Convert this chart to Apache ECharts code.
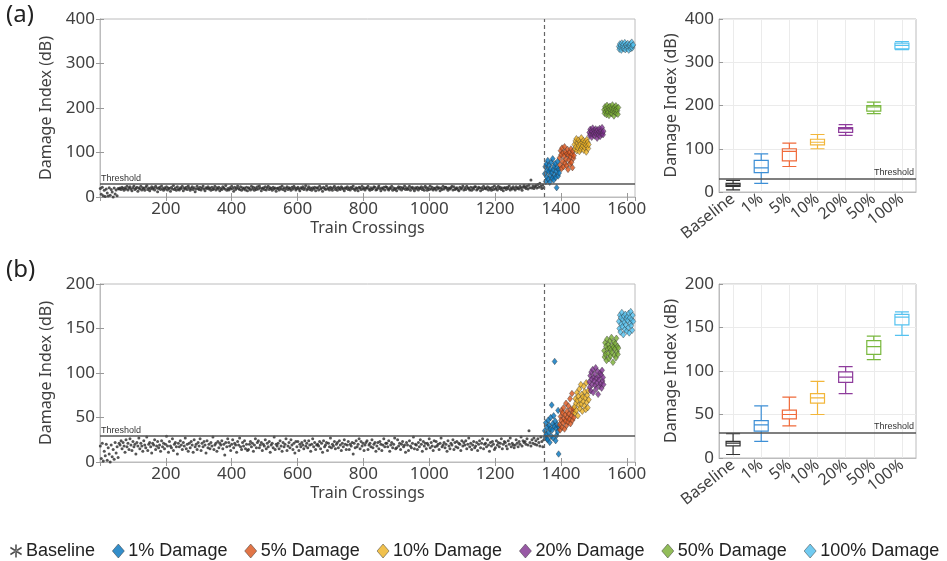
<!DOCTYPE html>
<html><head><meta charset="utf-8">
<script src="https://cdn.jsdelivr.net/npm/echarts@6/dist/echarts.min.js"></script>
<style>html,body{margin:0;padding:0;background:#fff}#c{width:947px;height:561px}</style>
</head><body><div id="c"></div>
<script>
// ---- data ----
const categories = ['Baseline','1%','5%','10%','20%','50%','100%'];
const seriesNames = ['Baseline','1% Damage','5% Damage','10% Damage','20% Damage','50% Damage','100% Damage'];
const thresholdA = 30;
const thresholdB = 29;
const damageOnset = 1350;
// baseline crossings: 1, 4, 7, ... (every 3rd crossing)
const baseStart = 1, baseStep = 3;
const baselineA = [
19,6,22,3,15,1,18,9,2,21, 4,17,11,0,20,7,16,3,19,18, 20,17,22,19,15,21,18,24,16,20, 23,18,14,21,25,17,19,22,13,20,
18,24,16,21,19,15,22,26,17,20, 14,19,23,18,21,16,24,20,12,19, 22,17,25,19,15,21,18,23,16,20, 19,13,22,18,26,17,20,15,23,18,
16,21,19,24,14,20,18,22,17,25, 20,15,19,23,17,21,12,18,24,19, 17,22,16,20,25,18,14,21,19,23, 18,20,15,22,17,19,24,16,21,18,
22,14,19,17,23,20,18,26,15,19, 16,21,18,24,19,13,22,17,20,25, 19,17,23,15,21,18,20,16,22,14, 21,19,16,24,18,22,15,20,17,23,
18,25,20,14,19,21,17,23,16,20, 24,17,21,19,15,22,18,20,13,19, 20,16,22,18,25,17,21,14,19,23, 17,21,19,15,22,18,24,20,16,19,
22,18,14,21,19,23,17,20,26,16, 19,23,17,20,15,21,18,22,14,20, 21,16,24,18,20,13,22,19,17,25, 18,20,16,22,19,15,21,24,17,20,
15,22,19,17,23,20,18,14,21,19, 23,17,20,16,22,19,25,18,15,21, 19,14,22,20,17,24,18,21,16,20, 20,24,18,15,21,17,19,23,22,16,
17,21,25,19,14,20,18,22,16,23, 22,18,16,21,19,24,15,20,17,19, 14,20,23,18,22,16,21,19,25,17, 21,17,19,24,15,20,22,18,14,21,
18,22,16,20,19,23,17,21,15,24, 20,15,21,17,25,18,22,16,19,20, 16,23,19,21,14,20,17,24,18,22, 22,19,15,20,18,21,24,16,23,17,
19,21,17,14,22,18,20,25,16,21, 17,24,20,19,16,22,15,21,18,23, 23,16,18,22,20,14,21,17,24,19, 20,18,23,16,21,19,15,22,17,25,
18,21,16,24,19,22,17,20,14,21, 21,17,22,19,25,16,20,18,23,19, 16,23,19,21,18,24,20,15,22,26, 22,19,24,18,27,21,38,20,25,19,
23,26,20,28,22,31,24,19,27,21];
const baselineB = [
18,4,21,1,12,7,20,2,16,9, 0,19,6,14,3,22,10,17,5,21, 19,24,15,22,18,11,25,17,21,14, 26,19,13,23,17,20,9,22,18,27,
15,21,18,12,24,19,16,28,13,20, 22,17,10,21,19,25,14,18,23,16, 19,12,24,17,21,15,20,29,18,11, 23,18,16,26,13,20,22,17,9,21,
17,24,19,14,22,18,27,15,20,12, 21,16,23,19,11,25,17,20,14,22, 18,26,13,21,17,23,19,10,24,16, 20,15,22,18,28,14,19,21,12,23,
16,21,19,24,15,20,8,22,17,26, 22,18,13,20,25,16,21,19,11,23, 19,27,17,14,22,18,24,15,20,13, 14,20,23,17,21,12,19,26,16,22,
24,16,19,22,13,20,18,25,15,21, 17,23,11,19,21,16,28,14,20,18, 21,15,24,18,12,22,17,20,26,13, 18,22,16,25,19,14,21,10,23,17,
23,13,20,17,22,19,15,24,18,21, 16,24,19,12,20,26,17,22,14,19, 20,18,23,15,21,11,24,17,19,22, 13,21,17,27,16,20,18,23,15,20,
22,16,24,19,13,21,17,25,20,14, 19,23,14,20,18,22,9,21,16,24, 17,20,26,15,23,18,21,13,19,22, 24,14,19,21,17,25,16,20,22,12,
18,22,15,23,20,13,19,26,17,21, 21,17,24,12,19,22,16,20,27,15, 16,25,18,21,14,20,23,17,19,11, 22,19,13,24,18,16,21,28,15,20,
19,14,22,17,25,20,12,23,18,21, 15,21,19,26,16,22,18,13,24,17, 23,18,20,14,21,27,17,19,22,16, 20,12,24,18,15,21,19,25,14,22,
17,23,16,21,20,13,24,18,22,19, 24,15,20,27,17,21,14,19,23,16, 18,22,13,20,24,16,21,26,15,20, 21,17,25,19,12,22,18,23,20,14,
16,24,19,22,17,21,26,15,20,23, 22,18,15,24,20,27,17,21,19,16, 19,25,21,17,23,20,28,18,24,22, 23,20,26,19,35,22,18,25,21,27,
20,24,19,26,22,18,28,23,17,25];
// damage levels: 45 crossings each, values every 1.5 crossings
const damageStarts = [1351,1396,1441,1486,1531,1576];
const damageStep = 1.5;
const dmgA1   = [52,68,35,74,45,60,82,40,57,71,33,63,48,78,55,42,86,61,38,69,50,75,44,58,21,66,80,47,62,54];
const dmgA5   = [88,72,104,95,64,110,80,99,68,92,113,76,101,85,70,97,107,62,94,83,100,74,90,108,78,96,66,103,87,93];
const dmgA10  = [118,108,126,113,131,104,121,110,128,116,102,124,119,107,133,112,122,115,127,105,120,111,125,117,101,129,114,123,109,118];
const dmgA20  = [145,138,152,141,149,134,147,155,140,144,150,137,146,153,142,148,132,151,143,139,147,154,136,145,149,141,156,144,140,148];
const dmgA50  = [196,188,203,192,199,185,206,194,190,201,183,197,204,189,195,200,187,207,193,198,182,202,191,196,205,188,199,194,186,201];
const dmgA100 = [338,332,344,336,341,330,346,335,339,343,333,337,347,331,340,342,334,338,345,336,330,341,339,344,333,337,348,335,340,342];
const dmgB1   = [35,28,44,31,26,39,25,47,33,41,22,37,50,29,64,36,43,27,52,40,113,46,24,38,30,42,34,58,9,39];
const dmgB5   = [42,36,51,47,58,39,55,44,61,49,37,53,46,66,41,57,50,45,63,54,48,71,43,59,52,77,47,56,60,50];
const dmgB10  = [62,55,71,66,58,78,69,52,74,64,82,60,70,87,65,76,57,73,68,85,63,79,72,59,89,67,75,61,80,70];
const dmgB20  = [90,84,97,80,101,93,87,104,78,95,91,99,86,106,82,94,89,102,76,96,92,85,100,88,98,83,103,91,95,87];
const dmgB50  = [125,118,134,121,130,114,138,127,122,132,116,128,136,119,126,140,123,131,112,129,135,120,127,133,117,139,124,130,121,128];
const dmgB100 = [158,150,165,146,162,155,168,152,160,143,164,157,149,166,154,161,147,163,159,151,167,145,162,156,169,153,160,148,165,158];
// box plot stats: [min, Q1, median, Q3, max]
const boxA = [[5,13,16,20,27],[20,45,56,73,88],[59,72,94,100,113],[100,109,115,122,133],[131,138,146,149,156],[181,187,197,200,208],[329,331,339,344,348]];
const boxB = [[4,14,17,19,28],[19,31,38,43,60],[37,45,50,55,70],[50,63,69,74,88],[74,87,93,99,105],[113,119,128,135,140],[141,153,162,165,168]];

// ---- styling ----
const markColors = ['#222222','#0072BD','#D95319','#EDB120','#7E2F8E','#77AC30','#4DBEEE'];
const boxColors  = ['#333333','#3d8fd6','#f06a3a','#f2b63a','#8e3c9c','#79b83e','#55c2f0'];
const FONT = 'Noto Sans';
const txt = '#404040';
const frame = '#bcbcbd';
const asterisk = 'path://M4.4 0L5.6 0L5.6 10L4.4 10Z M0.3 2.8L0.9 1.7L9.7 7.2L9.1 8.3Z M0.3 7.2L0.9 8.3L9.7 2.8L9.1 1.7Z';

function pts(start, step, vals){ return vals.map((v,i)=>[start+i*step, v]); }

const gridsPos = [
  {left:100, top:19, width:535, height:178},
  {left:719, top:19, width:197, height:173},
  {left:100, top:284, width:535, height:178},
  {left:719, top:284, width:197, height:174}
];

function valX(grid, pos, labels){
  return {type:'value', gridIndex:grid, position:pos, min:0, max:1625, interval:200,
    axisLine:{show:true, lineStyle:{color:frame}},
    axisTick:{show:true, inside:true, length:4, lineStyle:{color:'#999'}},
    axisLabel:{show:labels, fontFamily:FONT, fontSize:17, color:txt, margin:4, showMinLabel:false, showMaxLabel:false,
      formatter:(v)=>String(v)},
    splitLine:{show:false},
    name: labels ? 'Train Crossings' : '', nameLocation:'middle', nameGap:23,
    nameTextStyle:{fontFamily:FONT, fontSize:16, color:txt}};
}
function valY(grid, pos, max, interval, labels, withName){
  return {type:'value', gridIndex:grid, position:pos, min:0, max:max, interval:interval,
    axisLine:{show:true, lineStyle:{color:frame}},
    axisTick:{show:true, inside:true, length:4, lineStyle:{color:'#999'}},
    axisLabel:{show:labels, fontFamily:FONT, fontSize:17, color:txt, margin:5},
    splitLine:{show:withName==='grid', lineStyle:{color:'#ebebeb'}},
    name: labels ? 'Damage Index (dB)' : '', nameLocation:'middle', nameGap:40,
    nameTextStyle:{fontFamily:FONT, fontSize:16, color:txt}};
}
function catX(grid){
  return {type:'category', gridIndex:grid, data:categories, boundaryGap:true,
    axisLine:{show:true, lineStyle:{color:frame}},
    axisTick:{show:false, alignWithLabel:true},
    axisLabel:{interval:0, rotate:38, fontFamily:FONT, fontSize:16, color:txt, margin:5},
    splitLine:{show:true, alignWithLabel:true, interval:0, lineStyle:{color:'#ebebeb'}}};
}

const xAxes = [valX(0,'bottom',true), catX(1), valX(2,'bottom',true), catX(3), valX(0,'top',false), valX(2,'top',false)];
const yAxes = [valY(0,'left',400,100,true,''), valY(1,'left',400,100,true,'grid'),
               valY(2,'left',200,50,true,''), valY(3,'left',200,50,true,'grid'),
               valY(0,'right',400,100,false,''), valY(2,'right',200,50,false,'')];
yAxes[1].nameGap = 40; yAxes[3].nameGap = 40;

function thresholdLine(val, pos){
  return {silent:true, symbol:'none', animation:false,
    lineStyle:{color:'#555', width:1.5, type:'solid'},
    label:{show:true, position:pos, formatter:'Threshold', fontFamily:'Liberation Sans', fontSize:9, color:'#333', distance:2},
    data:[{yAxis:val}]};
}

const series = [];
function addScatter(gi, baseVals, dmgs, thr){
  series.push({name:seriesNames[0], type:'scatter', xAxisIndex:gi, yAxisIndex:gi,
    data: pts(baseStart, baseStep, baseVals), symbol:'circle', symbolSize:3,
    itemStyle:{color:'#2a2a2a'}, z:2,
    markLine:{silent:true, symbol:'none', animation:false, data:[
      {yAxis:thr, lineStyle:{color:'#555', width:1.5, type:'solid'},
       label:{show:true, position:'insideStartTop', formatter:'Threshold', fontFamily:'Liberation Sans', fontSize:9, color:'#333', distance:1}},
      {xAxis:damageOnset, lineStyle:{color:'#666', width:1.2, type:[4,3]}, label:{show:false}}
    ]}});
  dmgs.forEach((vals,k)=>{
    series.push({name:seriesNames[k+1], type:'scatter', xAxisIndex:gi, yAxisIndex:gi,
      data: pts(damageStarts[k], damageStep, vals), symbol:'diamond', symbolSize:[5,6.5],
      itemStyle:{color:markColors[k+1], borderColor:'#333', borderWidth:0.5}, z:3});
  });
}
function addBox(gi, stats, thr){
  series.push({name:'box'+gi, type:'boxplot', xAxisIndex:gi, yAxisIndex:gi, boxWidth:[14,14],
    data: stats.map((s,i)=>({value:s, itemStyle:{color:'rgba(255,255,255,0)', borderColor:boxColors[i], borderWidth:1.2}})),
    z:3});
  series.push({name:'thr'+gi, type:'scatter', xAxisIndex:gi, yAxisIndex:gi, data:[],
    markLine: thresholdLine(thr, 'insideEndTop')});
}
addScatter(0, baselineA, [dmgA1,dmgA5,dmgA10,dmgA20,dmgA50,dmgA100], thresholdA);
addBox(1, boxA, thresholdA);
addScatter(2, baselineB, [dmgB1,dmgB5,dmgB10,dmgB20,dmgB50,dmgB100], thresholdB);
addBox(3, boxB, thresholdB);

const chart = echarts.init(document.getElementById('c'), null, {renderer:'canvas'});
chart.setOption({
  animation:false,
  backgroundColor:'#fff',
  grid: gridsPos.map(g=>Object.assign({show:true, borderColor:frame, borderWidth:1, backgroundColor:'#fff'}, g)),
  xAxis: xAxes, yAxis: yAxes,
  legend:{top:542, left:10, itemGap:17, itemWidth:12, itemHeight:14, padding:0,
    textStyle:{fontFamily:'Liberation Sans', fontSize:18, color:'#222', padding:[0,0,0,-1]},
    data: seriesNames.map((n,i)=> i===0
      ? {name:n, icon:asterisk, itemStyle:{color:'#222', borderWidth:0}}
      : {name:n, icon:'diamond', itemStyle:{color:markColors[i], borderColor:'#333', borderWidth:0.6}})},
  graphic:[
    {type:'text', left:6, top:3, style:{text:'(a)', font:'24px "Noto Sans"', fill:'#222'}},
    {type:'text', left:6, top:258, style:{text:'(b)', font:'24px "Noto Sans"', fill:'#222'}}
  ],
  series: series
});
</script></body></html>
